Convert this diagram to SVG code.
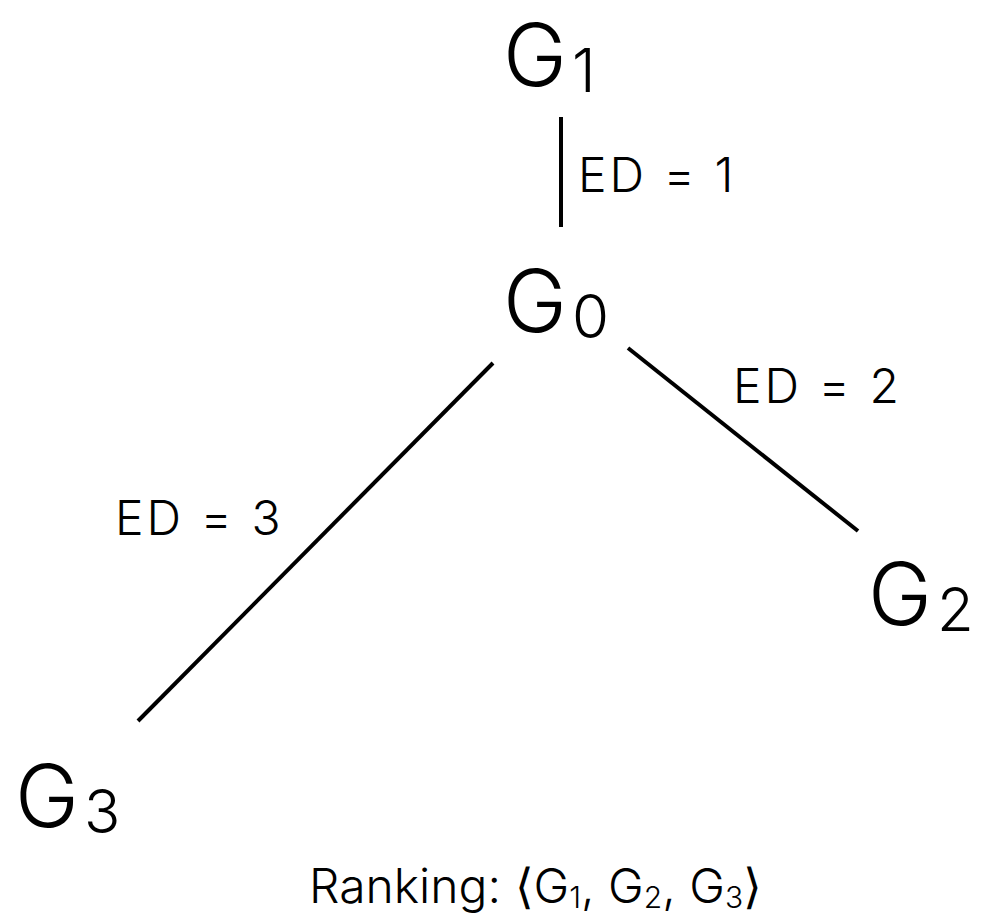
<svg xmlns="http://www.w3.org/2000/svg" width="985" height="921" viewBox="0 0 985 921">
<style>
text{font-family:Inter,"Liberation Sans",sans-serif;font-weight:300;fill:#000}
.n{font-size:86px}
.s{font-size:60px}
.l{font-size:48px;letter-spacing:3px}
.r{font-size:48px}
.rs{font-size:30px}
.e{stroke:#000;stroke-width:4;fill:none}
</style>
<rect width="985" height="921" fill="#fff"/>
<g id="edges">
<line class="e" x1="561" y1="117" x2="561" y2="227"/>
<line class="e" x1="628" y1="348" x2="858" y2="531"/>
<line class="e" x1="493" y1="363" x2="138" y2="721"/>
<text class="l" x="578" y="192">ED = 1</text>
<text class="l" x="733" y="403">ED = 2</text>
<text class="l" x="115" y="535">ED = 3</text>
</g>
<g id="G1"><text class="n" x="503" y="86">G<tspan class="s" dx="5" dy="6">1</tspan></text></g>
<g id="G0"><text class="n" x="503" y="332">G<tspan class="s" dx="5" dy="6">0</tspan></text></g>
<g id="G2"><text class="n" x="868" y="625">G<tspan class="s" dx="5" dy="6">2</tspan></text></g>
<g id="G3"><text class="n" x="15" y="827">G<tspan class="s" dx="5" dy="6">3</tspan></text></g>
<g id="ranking"><text class="r" x="309" y="903">Ranking: ⟨G<tspan class="rs" dy="5">1</tspan><tspan dy="-5">, G</tspan><tspan class="rs" dy="5">2</tspan><tspan dy="-5">, G</tspan><tspan class="rs" dy="5">3</tspan><tspan dy="-5">⟩</tspan></text></g>
</svg>
